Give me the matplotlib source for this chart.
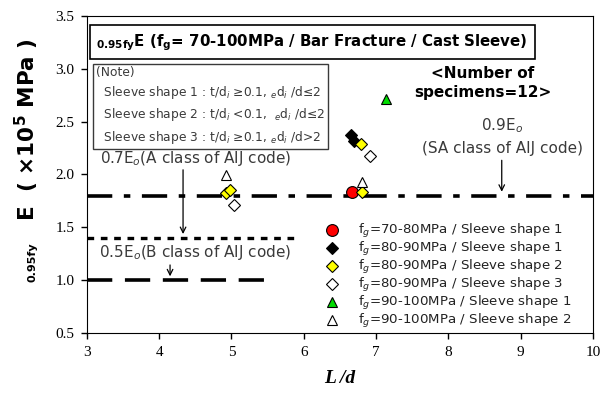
import matplotlib
matplotlib.use("Agg")
import matplotlib.pyplot as plt

# reference lines (x extent, level)
ref_sa_x = [3.0, 10.0]
ref_sa_y = [1.8, 1.8]
ref_a_x = [3.0, 5.95]
ref_a_y = [1.4, 1.4]
ref_b_x = [3.0, 5.55]
ref_b_y = [1.0, 1.0]

# data points
red_x = [6.67]
red_y = [1.83]
black_x = [6.65, 6.70]
black_y = [2.37, 2.32]
yellow_x = [4.92, 4.98, 6.80, 6.79]
yellow_y = [1.82, 1.85, 1.83, 2.29]
open_dia_x = [5.03, 6.91]
open_dia_y = [1.71, 2.17]
green_x = [7.14]
green_y = [2.71]
open_tri_x = [4.92, 6.80]
open_tri_y = [1.99, 1.93]

xticks = [3, 4, 5, 6, 7, 8, 9, 10]
yticks = [0.5, 1.0, 1.5, 2.0, 2.5, 3.0, 3.5]

sans = ["DejaVu Sans"]
serif = ["Liberation Serif", "DejaVu Serif"]
grey = "#3a3a3a"

fig = plt.figure(figsize=(6.08, 3.96), dpi=100)
ax = fig.add_axes([0.143, 0.159, 0.832, 0.801])

ax.plot(ref_sa_x, ref_sa_y, color="black", lw=2.6, dashes=(7, 3.2, 1.8, 3.2))
ax.plot(ref_a_x, ref_a_y, color="black", lw=2.4, dashes=(2, 2))
ax.plot(ref_b_x, ref_b_y, color="black", lw=2.6, dashes=(7, 3.5))

ax.plot(red_x, red_y, "o", ms=8.5, mfc="red", mec="black", mew=0.8, ls="none",
        label="f$_g$=70-80MPa / Sleeve shape 1")
ax.plot(black_x, black_y, "D", ms=6.5, mfc="black", mec="black", mew=0.8, ls="none",
        label="f$_g$=80-90MPa / Sleeve shape 1")
ax.plot(yellow_x, yellow_y, "D", ms=6.5, mfc="yellow", mec="black", mew=0.8, ls="none",
        label="f$_g$=80-90MPa / Sleeve shape 2")
ax.plot(open_dia_x, open_dia_y, "D", ms=6.5, mfc="white", mec="black", mew=0.8, ls="none",
        label="f$_g$=80-90MPa / Sleeve shape 3")
ax.plot(green_x, green_y, "^", ms=7.5, mfc="#00dd00", mec="black", mew=0.8, ls="none",
        label="f$_g$=90-100MPa / Sleeve shape 1")
ax.plot(open_tri_x, open_tri_y, "^", ms=7.5, mfc="white", mec="black", mew=0.8, ls="none",
        label="f$_g$=90-100MPa / Sleeve shape 2")

ax.set_xlim(3, 10)
ax.set_ylim(0.5, 3.5)
ax.set_xticks(xticks)
ax.set_yticks(yticks)
ax.set_xticklabels([str(t) for t in xticks], family=serif, fontsize=11)
ax.set_yticklabels([f"{t:.1f}" for t in yticks], family=serif, fontsize=11)
ax.tick_params(direction="out", length=4, width=1, pad=5)

ax.set_xlabel("L /d", family=serif, fontsize=14, fontweight="bold", style="italic",
              labelpad=8)

# y label built from two pieces (small subscript, large main text)
fig.text(0.054, 1 - 282 / 396, "0.95fy", family=sans, fontsize=8, fontweight="bold",
         rotation=90, ha="center", va="bottom")
fig.text(0.044, 1 - 221 / 396, "E  ( ×10$^{\\mathbf{5}}$ MPa )", family=sans,
         fontsize=15.5, fontweight="bold", rotation=90, ha="center", va="bottom")

leg = ax.legend(loc="lower left", frameon=False, handletextpad=0.95,
                labelspacing=0.0, prop={"family": sans, "size": 9.6},
                bbox_to_anchor=(0.4585, 0.008), borderpad=0, borderaxespad=0)
for t in leg.get_texts():
    t.set_color("#222222")

# title box
ax.text(3.13, 3.25,
        r"$_{\mathbf{0.95fy}}$E (f$_{\mathbf{g}}$= 70-100MPa / Bar Fracture / Cast Sleeve)",
        family=sans, fontsize=10.8, fontweight="bold", va="center", ha="left",
        bbox=dict(boxstyle="square,pad=0.45", fc="white", ec="black", lw=1.2))

# note box
note = ("(Note)\n"
        "  Sleeve shape 1 : t/d$_i$ ≥0.1, $_e$d$_i$ /d≤2\n"
        "  Sleeve shape 2 : t/d$_i$ <0.1,  $_e$d$_i$ /d≤2\n"
        "  Sleeve shape 3 : t/d$_i$ ≥0.1, $_e$d$_i$ /d>2")
ax.text(3.12, 3.03, note, family=sans, fontsize=8.8, color=grey, va="top", ha="left",
        linespacing=1.45,
        bbox=dict(boxstyle="square,pad=0.25", fc="white", ec=grey, lw=1.0))

ax.text(8.48, 2.865, "<Number of\nspecimens=12>", family=sans, fontsize=11,
        fontweight="bold", ha="center", va="center", linespacing=1.3)

ax.text(8.75, 2.46, "0.9E$_o$", family=sans, fontsize=11, color=grey,
        ha="center", va="center")
ax.text(8.75, 2.25, "(SA class of AIJ code)", family=sans, fontsize=11, color=grey,
        ha="center", va="center")
ax.annotate("", xy=(8.74, 1.81), xytext=(8.74, 2.16),
            arrowprops=dict(arrowstyle="->", color="black", lw=0.9))

ax.text(3.18, 2.155, "0.7E$_o$(A class of AIJ code)", family=sans, fontsize=11,
        color=grey, ha="left", va="center")
ax.annotate("", xy=(4.33, 1.41), xytext=(4.33, 2.07),
            arrowprops=dict(arrowstyle="->", color="black", lw=0.9))

ax.text(3.16, 1.26, "0.5E$_o$(B class of AIJ code)", family=sans, fontsize=11,
        color=grey, ha="left", va="center")
ax.annotate("", xy=(4.15, 1.01), xytext=(4.15, 1.17),
            arrowprops=dict(arrowstyle="->", color="black", lw=0.9))

fig.savefig("out.png", dpi=100)
